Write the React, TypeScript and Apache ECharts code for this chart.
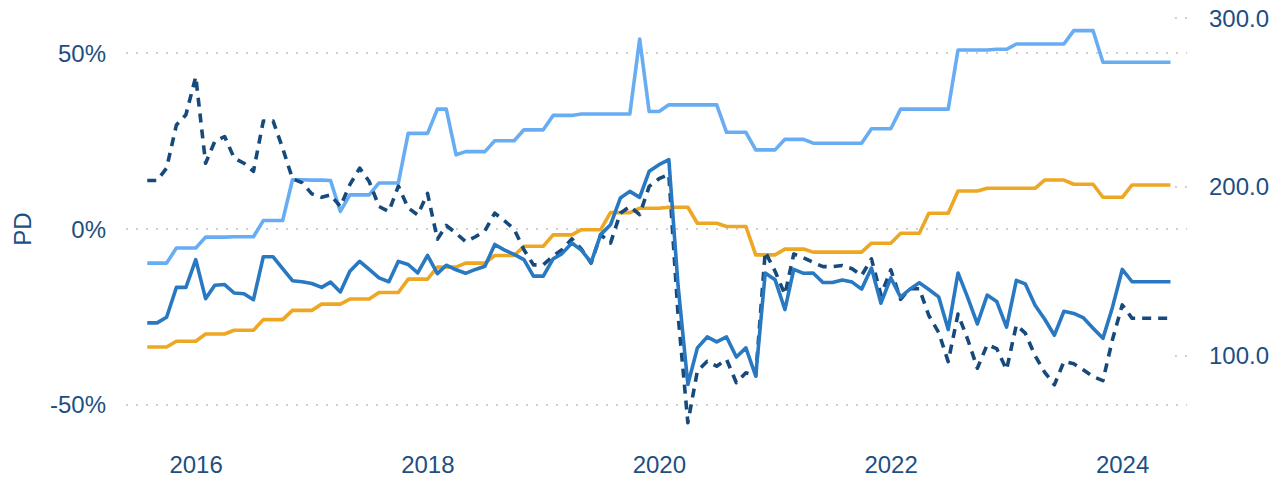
import { useEffect, useRef } from 'react';
import * as echarts from 'echarts';

// Month-end observations, July 2015 onwards
const FIRST_YEAR = 2015;
const FIRST_MONTH = 7;

const YEAR_TICKS = [2016, 2018, 2020, 2022, 2024];
const PD_TICKS = [-50, 0, 50];
const INDEX_TICKS = [100, 200, 300];

// Left axis (PD, %)
const pdLight = [
  -9.7, -9.7, -9.7, -5.4, -5.4, -5.4, -2.3, -2.3, -2.3, -2.2, -2.2, -2.2,
  2.4, 2.4, 2.4, 14.0, 14.0, 13.9, 13.9, 13.8, 5.0, 9.7, 9.7, 9.7,
  13.1, 13.1, 13.1, 27.2, 27.2, 27.2, 34.1, 34.1, 21.1, 22.0, 22.0, 22.0,
  25.1, 25.1, 25.1, 28.2, 28.2, 28.2, 32.3, 32.3, 32.3, 32.7, 32.7, 32.7,
  32.7, 32.7, 32.7, 54.0, 33.4, 33.4, 35.3, 35.3, 35.3, 35.3, 35.3, 35.3,
  27.5, 27.5, 27.5, 22.5, 22.5, 22.5, 25.5, 25.5, 25.5, 24.4, 24.4, 24.4,
  24.4, 24.4, 24.4, 28.5, 28.5, 28.5, 34.1, 34.1, 34.1, 34.1, 34.1, 34.1,
  50.9, 50.9, 50.9, 50.9, 51.1, 51.1, 52.6, 52.6, 52.6, 52.6, 52.6, 52.6,
  56.4, 56.4, 56.4, 47.4, 47.4, 47.4, 47.4, 47.4, 47.4, 47.4, 47.4,
];

const pdSolid = [
  -26.7, -26.7, -25.1, -16.6, -16.6, -8.7, -19.8, -16.0, -15.8, -18.2, -18.4, -20.1,
  -7.9, -7.9, -11.3, -14.7, -15.0, -15.5, -16.6, -15.1, -17.9, -12.0, -9.2, -11.5,
  -13.9, -15.0, -9.2, -10.1, -12.5, -7.5, -12.7, -10.3, -11.6, -12.6, -11.5, -10.6,
  -4.4, -6.0, -7.2, -8.7, -13.4, -13.4, -8.5, -7.0, -4.0, -6.0, -9.5, -1.6,
  1.2, 8.8, 10.7, 9.0, 16.4, 18.3, 19.7, -16.0, -44.2, -33.8, -30.7, -32.1,
  -30.7, -36.4, -33.8, -41.8, -12.5, -14.4, -22.9, -11.5, -12.6, -12.5, -15.2, -15.2,
  -14.5, -15.1, -17.1, -11.1, -21.1, -13.9, -19.4, -17.2, -15.3, -17.2, -19.3, -28.6,
  -12.5, -19.6, -27.0, -18.8, -20.6, -27.9, -14.6, -15.6, -21.7, -25.6, -30.2, -23.4,
  -24.0, -25.3, -28.2, -31.1, -22.3, -11.5, -15.0, -15.0, -15.0, -15.0, -15.0,
];

const pdDashed = [
  13.8, 13.8, 17.3, 29.6, 32.5, 43.3, 18.7, 24.9, 26.3, 20.2, 18.7, 16.4,
  30.7, 30.7, 23.0, 14.3, 13.2, 10.0, 9.0, 9.7, 6.4, 12.6, 17.3, 13.5,
  6.4, 5.0, 12.2, 6.0, 4.0, 10.1, -2.9, 1.0, -1.2, -3.6, -2.2, -0.5,
  4.5, 2.3, 0.0, -5.9, -10.2, -10.2, -7.7, -5.9, -2.8, -5.7, -9.7, -1.6,
  -4.0, 4.5, 6.4, 4.1, 12.1, 14.3, 15.5, -24.3, -55.1, -40.4, -37.6, -39.0,
  -37.1, -43.7, -40.9, -41.8, -6.5, -12.0, -18.6, -7.1, -8.2, -9.5, -10.7, -10.7,
  -10.4, -11.3, -13.2, -8.5, -18.8, -11.6, -20.0, -17.0, -17.0, -24.6, -29.4, -37.7,
  -24.2, -31.5, -39.6, -32.9, -34.0, -40.0, -27.3, -29.6, -36.0, -40.7, -44.3, -37.7,
  -38.3, -40.1, -42.0, -43.1, -31.5, -21.6, -25.4, -25.4, -25.4, -25.4, -25.4,
];

// Right axis (index level)
const indexLevel = [
  105.1, 105.1, 105.1, 108.5, 108.5, 108.5, 112.8, 112.8, 112.8, 115.0, 115.0, 115.0,
  121.3, 121.3, 121.3, 126.8, 126.8, 126.8, 130.5, 130.5, 130.5, 133.5, 133.5, 133.5,
  137.4, 137.4, 137.4, 145.3, 145.3, 145.3, 152.4, 152.4, 152.4, 154.8, 154.8, 154.8,
  159.3, 159.3, 159.3, 164.8, 164.8, 164.8, 171.5, 171.5, 171.5, 174.6, 174.6, 174.6,
  184.7, 184.7, 184.7, 187.3, 187.3, 187.3, 187.9, 187.9, 187.9, 178.4, 178.4, 178.4,
  176.5, 176.5, 176.5, 159.7, 159.7, 159.7, 163.1, 163.1, 163.1, 161.3, 161.3, 161.3,
  161.3, 161.3, 161.3, 166.6, 166.6, 166.6, 172.5, 172.5, 172.5, 184.3, 184.3, 184.3,
  197.5, 197.5, 197.5, 199.1, 199.1, 199.1, 199.1, 199.1, 199.1, 204.0, 204.0, 204.0,
  201.5, 201.5, 201.5, 193.8, 193.8, 193.8, 201.1, 201.1, 201.1, 201.1, 201.1,
];

const TEXT = '#1d4f82';
const FONT = '"Liberation Sans", Arial, Helvetica, sans-serif';
const GRID_DOT = '#cfcfcf';

const monthEnd = (i: number) => new Date(FIRST_YEAR, FIRST_MONTH + i, 0).getTime();
const pairs = (vals: number[]) => vals.map((v, i) => [monthEnd(i), v]);

export default function App() {
  const ref = useRef<HTMLDivElement>(null);

  useEffect(() => {
    if (!ref.current) return;
    const chart = echarts.init(ref.current, undefined, { renderer: 'svg' });

    const lineSeries = (name: string, data: number[], color: string, yAxisIndex: number, dashed = false) => ({
      name,
      type: 'line',
      yAxisIndex,
      data: pairs(data),
      showSymbol: false,
      symbol: 'none',
      silent: true,
      lineStyle: {
        color,
        width: 3.6,
        type: dashed ? [9, 7] : 'solid',
        cap: 'butt',
        join: 'round',
      },
      itemStyle: { color },
      z: 3,
    });

    chart.setOption({
      animation: false,
      grid: { left: 126, right: 85, top: 18, bottom: 38 },
      xAxis: {
        // timestamps on a plain value axis, labelled at the start of each even year
        type: 'value',
        min: new Date(2015, 4, 25).getTime(),
        max: new Date(2024, 6, 22).getTime(),
        axisLine: { show: false },
        axisTick: { show: false },
        splitLine: { show: false },
        axisLabel: {
          customValues: YEAR_TICKS.map((y) => new Date(y, 0, 1).getTime()),
          formatter: (v: number) => String(new Date(v).getFullYear()),
          color: TEXT,
          fontSize: 24,
          fontFamily: FONT,
          margin: 12,
        },
      },
      yAxis: [
        {
          type: 'value',
          position: 'left',
          min: -60,
          max: 60,
          name: 'PD',
          nameLocation: 'middle',
          nameGap: 92,
          nameTextStyle: { color: TEXT, fontSize: 24, fontFamily: FONT },
          axisLine: { show: false },
          axisTick: { show: false, customValues: PD_TICKS },
          axisLabel: {
            customValues: PD_TICKS,
            formatter: (v: number) => `${v}%`,
            color: TEXT,
            fontSize: 24,
            fontFamily: FONT,
            margin: 20,
          },
          splitLine: {
            show: true,
            lineStyle: { color: GRID_DOT, width: 2, type: [2, 8], cap: 'butt' },
          },
        },
        {
          type: 'value',
          position: 'right',
          min: 50,
          max: 300,
          axisLine: { show: false },
          axisTick: {
            show: true,
            customValues: INDEX_TICKS,
            inside: true,
            length: 12,
            lineStyle: { color: GRID_DOT, width: 2, type: [2, 8] },
          },
          axisLabel: {
            customValues: INDEX_TICKS,
            formatter: (v: number) => v.toFixed(1),
            color: TEXT,
            fontSize: 24,
            fontFamily: FONT,
            margin: 22,
          },
          splitLine: { show: false },
        },
      ],
      series: [
        lineSeries('Premium', pdLight, '#68adf3', 0),
        lineSeries('Index', indexLevel, '#eea723', 1),
        lineSeries('PD (adjusted)', pdDashed, '#164a7c', 0, true),
        lineSeries('PD', pdSolid, '#2878c2', 0),
      ],
    });

    return () => chart.dispose();
  }, []);

  return (
    <div
      ref={ref}
      style={{ position: 'fixed', left: 0, top: 0, width: 1272, height: 478, background: '#ffffff' }}
    />
  );
}
